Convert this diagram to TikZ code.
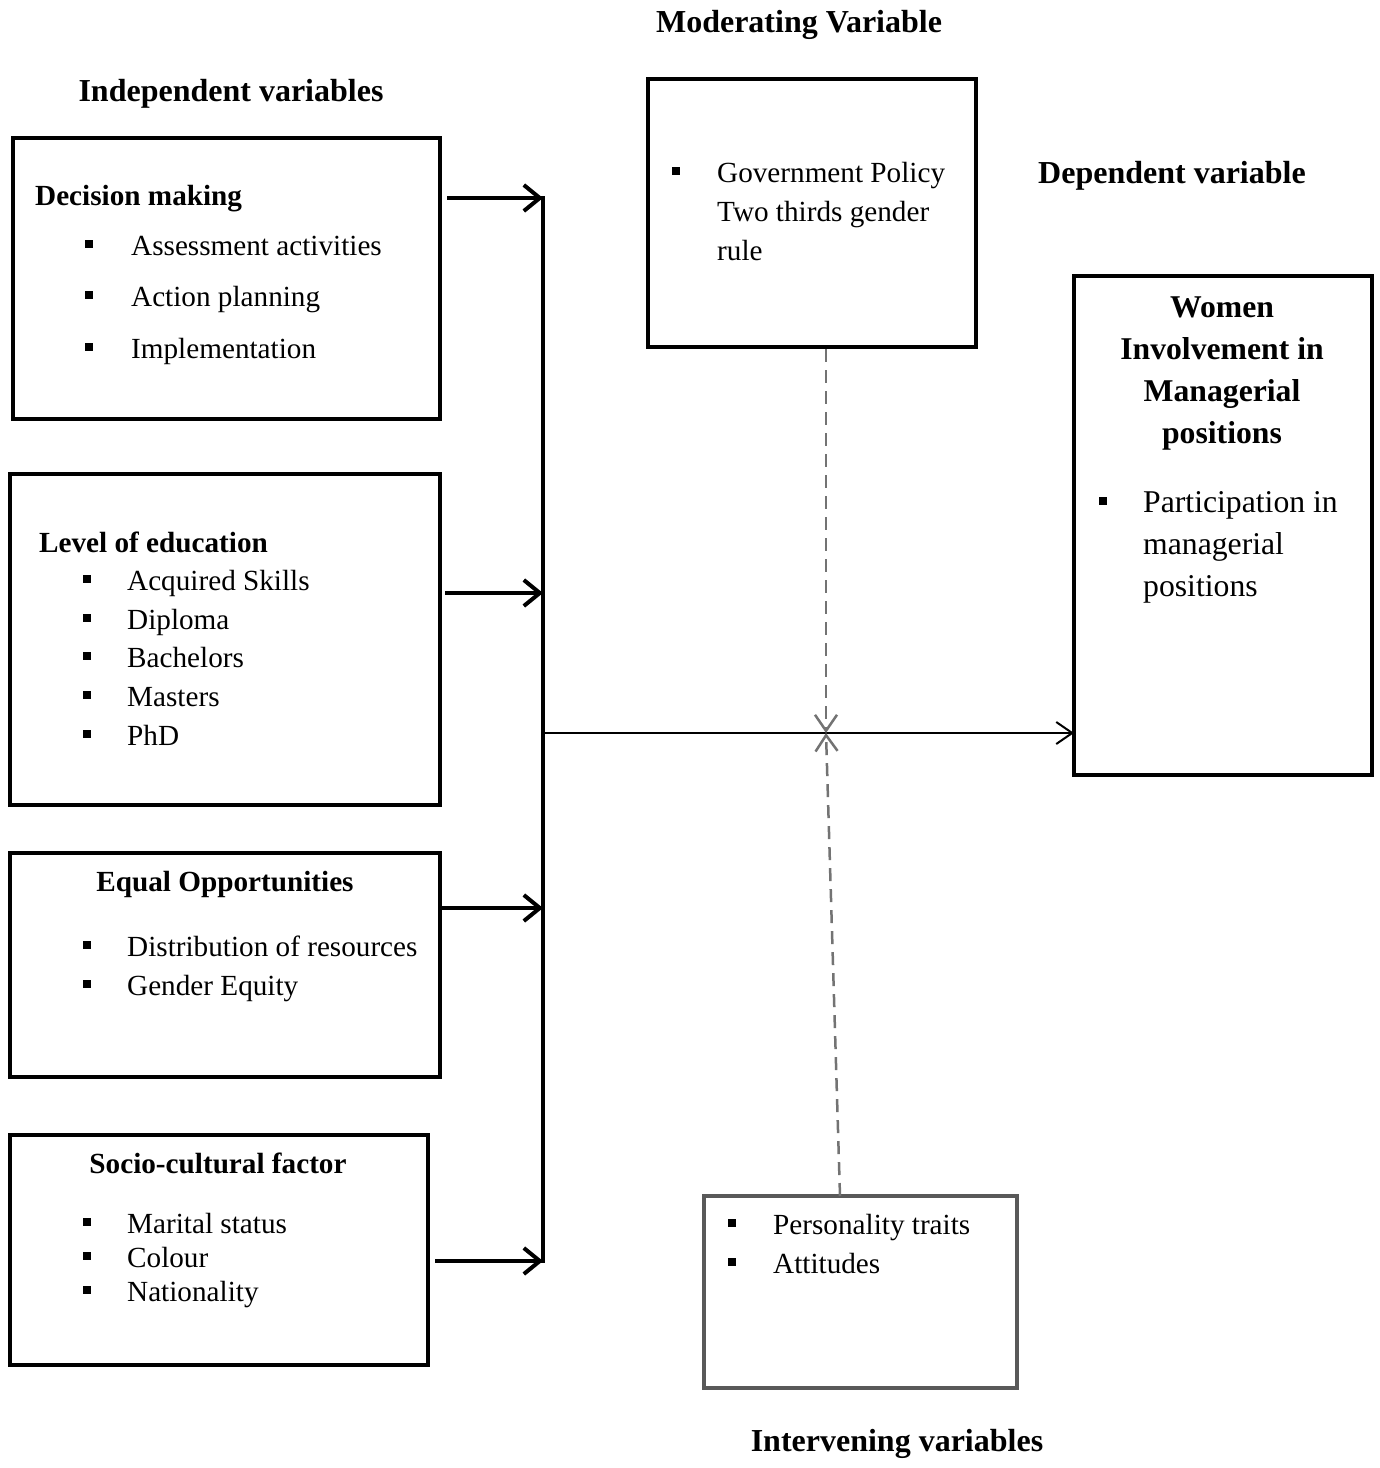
\documentclass[tikz,border=0pt]{standalone}
\usepackage{fontspec}
\setmainfont{Liberation Serif}
\usetikzlibrary{arrows.meta}
\begin{document}
\begin{tikzpicture}[x=1pt,y=-1pt,
  box/.style={draw=black,line width=4pt,rectangle,inner sep=0pt,outer sep=0pt,anchor=north west},
  gbox/.style={draw=black!65,line width=3.5pt,rectangle,inner sep=0pt,outer sep=0pt,anchor=north west},
  txt/.style={anchor=base west,inner sep=0pt,font=\fontsize{29.2}{35}\selectfont},
  btxt/.style={anchor=base west,inner sep=0pt,font=\fontsize{29.2}{35}\selectfont\bfseries},
  ctxt/.style={anchor=base,inner sep=0pt,font=\fontsize{29.2}{35}\selectfont\bfseries},
  dtxt/.style={anchor=base west,inner sep=0pt,font=\fontsize{31.7}{38}\selectfont},
  dhd/.style={anchor=base,inner sep=0pt,font=\fontsize{31.7}{38}\selectfont\bfseries},
  hd/.style={anchor=base,inner sep=0pt,font=\fontsize{32}{38}\selectfont\bfseries},
  bul/.style={fill=black,draw=none,inner sep=0pt,minimum width=7.5pt,minimum height=8pt,rectangle},
  feed/.style={line width=4pt,-{Straight Barb[length=16pt,width=26pt]}},
  main/.style={line width=2pt,-{Straight Barb[length=16pt,width=22pt]}},
  mod/.style={draw=black!55,line width=2.5pt,dash pattern=on 13pt off 8pt,-{Straight Barb[length=16pt,width=22pt]}}
]
\useasboundingbox (0,0) rectangle (1380,1468);

% headings
\node[hd] (hmod) at (799,32) {Moderating Variable};
\node[hd] (hind) at (231,101) {Independent variables};
\node[hd] (hdep) at (1172,183) {Dependent variable};
\node[hd] (hint) at (897,1451) {Intervening variables};

% boxes
\node[box,minimum width=427pt,minimum height=281pt] (b1) at (13,138) {};
\node[box,minimum width=430pt,minimum height=331pt] (b2) at (10,474) {};
\node[box,minimum width=430pt,minimum height=224pt] (b3) at (10,853) {};
\node[box,minimum width=418pt,minimum height=230pt] (b4) at (10,1135) {};
\node[box,minimum width=328pt,minimum height=268pt] (mb) at (648,79) {};
\node[box,minimum width=298pt,minimum height=499pt] (db) at (1074,276) {};
\node[gbox,minimum width=313pt,minimum height=192pt] (ib) at (704,1196) {};

% box 1
\node[btxt] (t1) at (35,205) {Decision making};
\node[bul] (u11) at (89,244) {}; \node[txt] (t11) at (131,255) {Assessment activities};
\node[bul] (u12) at (89,295) {}; \node[txt] (t12) at (131,306) {Action planning};
\node[bul] (u13) at (89,347) {}; \node[txt] (t13) at (131,358) {Implementation};

% box 2
\node[btxt] (t2) at (39,552) {Level of education};
\node[bul] (u21) at (87,579) {}; \node[txt] (t21) at (127,590) {Acquired Skills};
\node[bul] (u22) at (87,618) {}; \node[txt] (t22) at (127,629) {Diploma};
\node[bul] (u23) at (87,656) {}; \node[txt] (t23) at (127,667) {Bachelors};
\node[bul] (u24) at (87,695) {}; \node[txt] (t24) at (127,706) {Masters};
\node[bul] (u25) at (87,734) {}; \node[txt] (t25) at (127,745) {PhD};

% box 3
\node[ctxt] (t3) at (225,891) {Equal Opportunities};
\node[bul] (u31) at (87,945) {}; \node[txt] (t31) at (127,956) {Distribution of resources};
\node[bul] (u32) at (87,984) {}; \node[txt] (t32) at (127,995) {Gender Equity};

% box 4
\node[ctxt] (t4) at (218,1173) {Socio-cultural factor};
\node[bul] (u41) at (87,1222) {}; \node[txt] (t41) at (127,1233) {Marital status};
\node[bul] (u42) at (87,1256) {}; \node[txt] (t42) at (127,1267) {Colour};
\node[bul] (u43) at (87,1290) {}; \node[txt] (t43) at (127,1301) {Nationality};

% moderating
\node[bul] (um) at (676,171) {};
\node[txt] (tm1) at (717,182) {Government Policy};
\node[txt] (tm2) at (717,221) {Two thirds gender};
\node[txt] (tm3) at (717,260) {rule};

% dependent
\node[dhd] (td1) at (1222,317) {Women};
\node[dhd] (td2) at (1222,359) {Involvement in};
\node[dhd] (td3) at (1222,401) {Managerial};
\node[dhd] (td4) at (1222,443) {positions};
\node[bul] (ud) at (1103,501) {};
\node[dtxt] (td5) at (1143,512) {Participation in};
\node[dtxt] (td6) at (1143,554) {managerial};
\node[dtxt] (td7) at (1143,596) {positions};

% intervening
\node[bul] (ui1) at (732,1223) {}; \node[txt] (ti1) at (773,1234) {Personality traits};
\node[bul] (ui2) at (732,1262) {}; \node[txt] (ti2) at (773,1273) {Attitudes};

% connectors
\coordinate (bartop) at (543,196);
\coordinate (barbot) at (543,1263);
\coordinate (s1) at (447,198);
\coordinate (s2) at (445,593);
\coordinate (s3) at (442,908);
\coordinate (s4) at (435,1261);
\coordinate (ms) at (545,733);
\coordinate (cross) at (826,733);
\coordinate (mtop) at (826,349);
\coordinate (ibot) at (840,1196);

\draw[line width=4pt] (bartop) -- (barbot);
\draw[feed] (s1) -- (s1 -| bartop);
\draw[feed] (s2) -- (s2 -| bartop);
\draw[feed] (s3) -- (s3 -| bartop);
\draw[feed] (s4) -- (s4 -| bartop);
\draw[main] (ms) -- (ms -| db.west);
\draw[mod] (mtop) -- (cross);
\draw[mod] (ibot) -- (cross);
\end{tikzpicture}
\end{document}
